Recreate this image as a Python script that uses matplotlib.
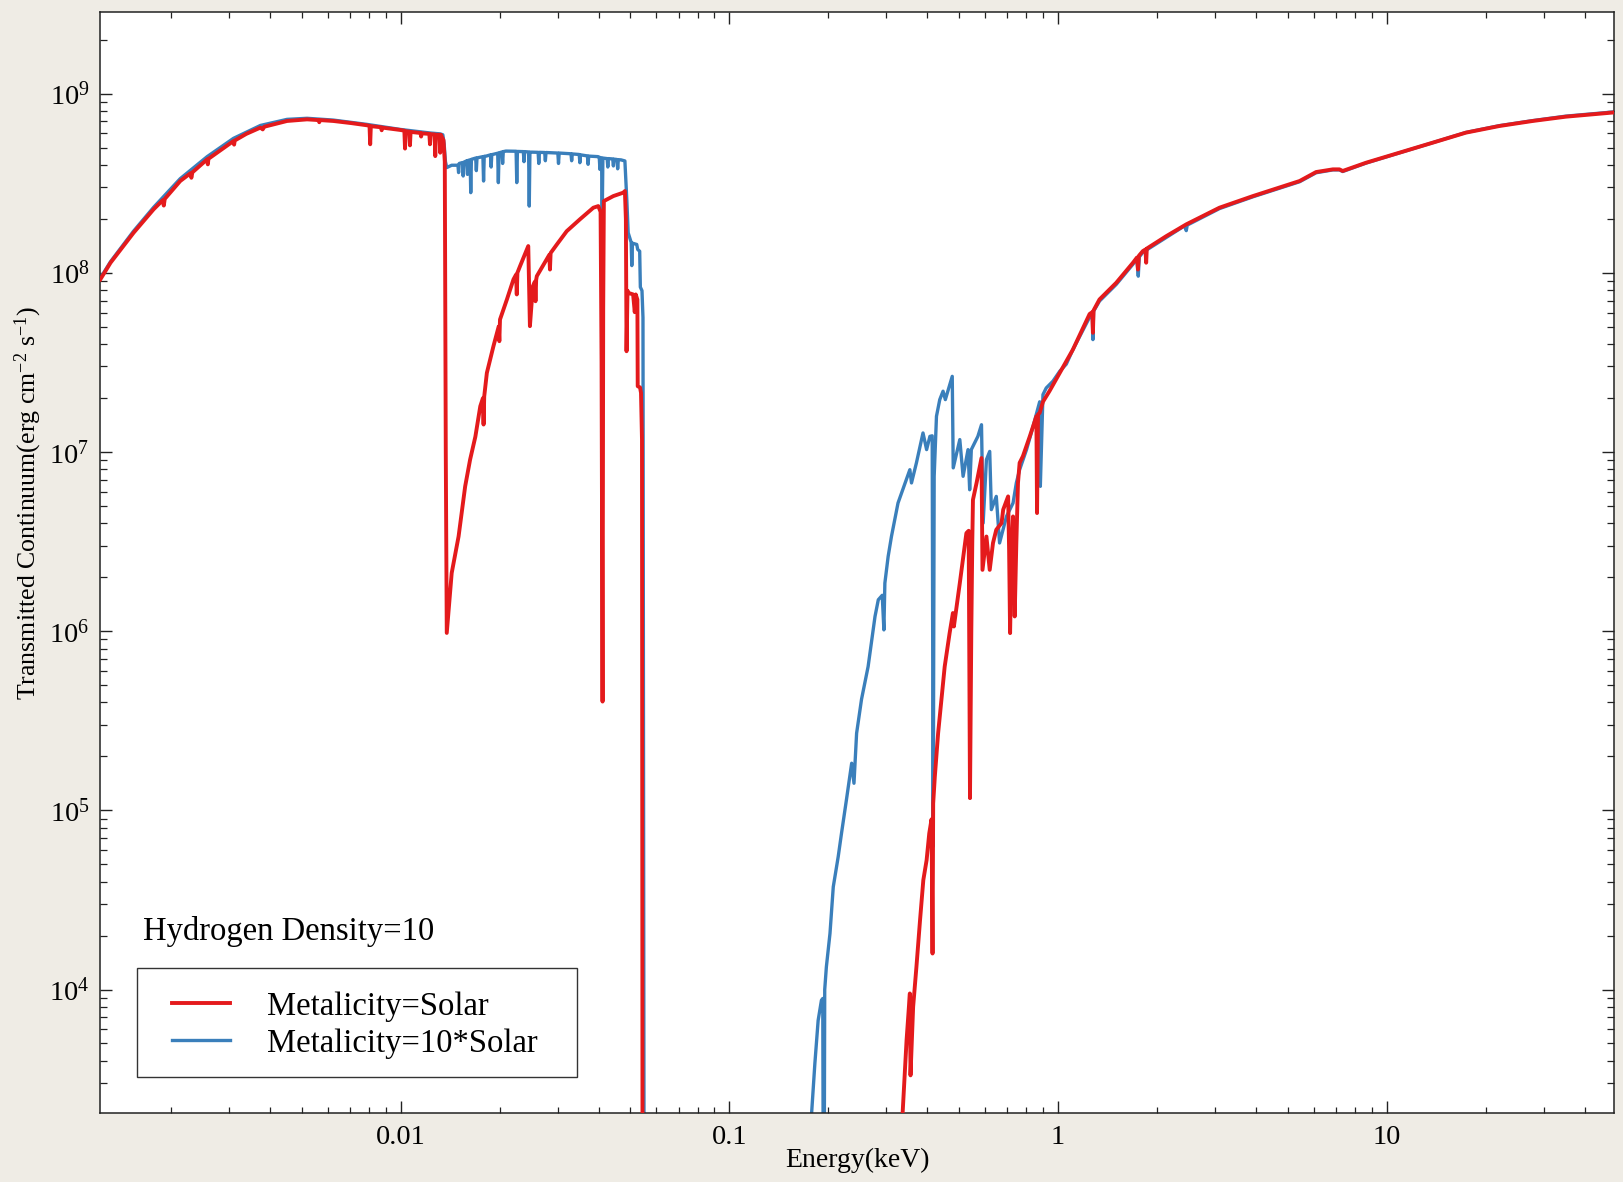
import numpy as np
import matplotlib
matplotlib.use("Agg")
import matplotlib.pyplot as plt
from matplotlib.patches import Rectangle
from matplotlib.ticker import FixedLocator, FixedFormatter, LogLocator, NullFormatter

plt.rcParams['font.family'] = ['Liberation Serif', 'DejaVu Serif']
plt.rcParams['mathtext.fontset'] = 'custom'
plt.rcParams['mathtext.rm'] = 'Liberation Serif'
plt.rcParams['mathtext.it'] = 'Liberation Serif:italic'
plt.rcParams['mathtext.bf'] = 'Liberation Serif:bold'

# ---------------- data (log10 energy [keV], log10 flux) ----------------
solar_soft_log_e = [-2.914, -2.883, -2.813, -2.752, -2.724, -2.721, -2.718, -2.671, -2.640, -2.637,
                    -2.634, -2.589, -2.587, -2.585, -2.509, -2.507, -2.505, -2.470, -2.427, -2.420,
                    -2.415, -2.346, -2.285, -2.250, -2.248, -2.246, -2.205, -2.150, -2.103, -2.095,
                    -2.093, -2.091, -2.060, -2.058, -2.056, -2.002, -1.989, -1.987, -1.985, -1.974,
                    -1.972, -1.970, -1.940, -1.938, -1.936, -1.913, -1.911, -1.909, -1.897, -1.895,
                    -1.893, -1.882, -1.880, -1.878, -1.870, -1.866, -1.863, -1.860,
                    -1.845, -1.824, -1.804, -1.789, -1.773, -1.758, -1.750, -1.748, -1.746, -1.738,
                    -1.718, -1.702, -1.700, -1.698, -1.677, -1.657, -1.649, -1.647, -1.645, -1.637,
                    -1.625, -1.612, -1.607, -1.598, -1.592, -1.590, -1.588, -1.586, -1.556, -1.548,
                    -1.546, -1.544, -1.525, -1.495, -1.455, -1.414, -1.399, -1.392, -1.389, -1.386,
                    -1.384, -1.382, -1.353, -1.323, -1.318, -1.315, -1.313, -1.310, -1.308, -1.293,
                    -1.288, -1.285, -1.280, -1.279, -1.272, -1.269, -1.266, -1.264]
solar_soft_log_f = [7.963, 8.056, 8.223, 8.354, 8.405, 8.375, 8.412, 8.512, 8.555, 8.530,
                    8.560, 8.633, 8.605, 8.636, 8.735, 8.715, 8.738, 8.775, 8.810, 8.800,
                    8.815, 8.847, 8.856, 8.852, 8.840, 8.852, 8.847, 8.835, 8.823, 8.820,
                    8.717, 8.818, 8.812, 8.795, 8.810, 8.797, 8.793, 8.693, 8.790, 8.788,
                    8.711, 8.786, 8.780, 8.760, 8.778, 8.775, 8.717, 8.773, 8.772, 8.651,
                    8.770, 8.770, 8.670, 8.770, 8.740, 8.620, 7.000, 5.990,
                    6.324, 6.529, 6.808, 6.957, 7.085, 7.255, 7.300, 7.153, 7.310, 7.441,
                    7.590, 7.700, 7.618, 7.739, 7.851, 7.963, 7.990, 7.879, 8.000, 8.037,
                    8.090, 8.149, 7.702, 7.925, 7.950, 7.841, 7.960, 7.981, 8.074, 8.100,
                    8.018, 8.110, 8.158, 8.232, 8.298, 8.363, 8.372, 8.340, 7.500, 5.607,
                    7.800, 8.400, 8.428, 8.447, 8.456, 8.300, 7.562, 7.900, 7.888, 7.879,
                    7.780, 7.879, 7.850, 7.367, 7.360, 7.330, 7.069, 2.000]

solar_hard_log_e = [-0.476, -0.473, -0.461, -0.451, -0.449, -0.441, -0.431, -0.420, -0.410, -0.400,
                    -0.392, -0.385, -0.382, -0.380, -0.375, -0.365, -0.355, -0.345, -0.330, -0.320,
                    -0.317, -0.299, -0.279, -0.272, -0.268, -0.264, -0.261, -0.259, -0.248, -0.240,
                    -0.233, -0.230, -0.218, -0.208, -0.198, -0.188, -0.172, -0.167, -0.152, -0.149,
                    -0.146, -0.142, -0.137, -0.132, -0.127, -0.122, -0.117, -0.107, -0.086, -0.066,
                    -0.064, -0.061, -0.056, -0.046, -0.026, 0.005, 0.045, 0.096, 0.104, 0.106,
                    0.108, 0.126, 0.177, 0.228, 0.240, 0.243, 0.246, 0.258, 0.266, 0.268,
                    0.270, 0.329, 0.390, 0.491, 0.593, 0.735, 0.785, 0.836, 0.856, 0.866,
                    0.937, 1.039, 1.140, 1.241, 1.343, 1.444, 1.545, 1.687]
solar_hard_log_f = [3.200, 3.310, 3.717, 3.978, 3.521, 3.903, 4.126, 4.387, 4.611, 4.722,
                    4.871, 4.950, 4.201, 5.039, 5.188, 5.430, 5.616, 5.802, 5.989, 6.101,
                    6.026, 6.268, 6.547, 6.560, 5.068, 6.000, 6.500, 6.733, 6.827, 6.901,
                    6.966, 6.342, 6.528, 6.342, 6.492, 6.566, 6.603, 6.678, 6.752, 6.454,
                    5.989, 6.400, 6.640, 6.082, 6.492, 6.827, 6.939, 6.976, 7.087, 7.199,
                    6.659, 7.210, 7.218, 7.280, 7.340, 7.441, 7.571, 7.770, 7.780, 7.665,
                    7.790, 7.851, 7.944, 8.056, 8.085, 8.018, 8.095, 8.121, 8.130, 8.056,
                    8.135, 8.204, 8.270, 8.363, 8.428, 8.512, 8.562, 8.577, 8.577, 8.568,
                    8.614, 8.670, 8.726, 8.782, 8.819, 8.847, 8.871, 8.894]

ten_solar_soft_log_e = [-2.914, -2.883, -2.813, -2.752, -2.671, -2.589, -2.509, -2.427, -2.346, -2.285,
                        -2.205, -2.103, -2.002, -1.911, -1.880, -1.872, -1.868, -1.864, -1.860, -1.845,
                        -1.826, -1.824, -1.822, -1.812, -1.810, -1.808, -1.800, -1.799, -1.797, -1.795,
                        -1.789, -1.787, -1.785, -1.772, -1.770, -1.768, -1.750, -1.748, -1.746, -1.740,
                        -1.727, -1.725, -1.723, -1.705, -1.703, -1.701, -1.692, -1.690, -1.688, -1.680,
                        -1.649, -1.647, -1.645, -1.627, -1.625, -1.623, -1.611, -1.609, -1.607, -1.600,
                        -1.582, -1.580, -1.578, -1.562, -1.560, -1.558, -1.522, -1.520, -1.518, -1.500,
                        -1.482, -1.480, -1.478, -1.457, -1.455, -1.453, -1.432, -1.430, -1.428, -1.400,
                        -1.396, -1.394, -1.392, -1.389, -1.387, -1.385, -1.372, -1.370, -1.368, -1.355,
                        -1.353, -1.351, -1.342, -1.340, -1.338, -1.330, -1.318, -1.312, -1.308, -1.299,
                        -1.297, -1.295, -1.282, -1.279, -1.273, -1.271, -1.266, -1.263, -1.259]
ten_solar_soft_log_f = [7.970, 8.062, 8.232, 8.365, 8.525, 8.648, 8.750, 8.822, 8.856, 8.862,
                        8.852, 8.828, 8.800, 8.780, 8.775, 8.770, 8.720, 8.620, 8.587, 8.600,
                        8.600, 8.559, 8.610, 8.615, 8.540, 8.617, 8.624, 8.625, 8.549, 8.627,
                        8.630, 8.447, 8.633, 8.640, 8.570, 8.641, 8.648, 8.512, 8.650, 8.651,
                        8.658, 8.590, 8.659, 8.667, 8.503, 8.669, 8.674, 8.610, 8.676, 8.679,
                        8.678, 8.503, 8.677, 8.676, 8.620, 8.676, 8.674, 8.372, 8.673, 8.673,
                        8.672, 8.610, 8.672, 8.671, 8.625, 8.671, 8.668, 8.610, 8.668, 8.666,
                        8.664, 8.625, 8.663, 8.660, 8.614, 8.658, 8.652, 8.605, 8.651, 8.648,
                        8.645, 8.577, 8.643, 8.640, 8.307, 8.640, 8.637, 8.590, 8.637, 8.635,
                        8.596, 8.634, 8.632, 8.580, 8.631, 8.630, 8.624, 8.400, 8.223, 8.170,
                        8.040, 8.165, 8.158, 8.130, 8.120, 7.920, 7.900, 7.750, 2.000]

ten_solar_hard_log_e = [-0.752, -0.750, -0.740, -0.730, -0.720, -0.716, -0.713, -0.710, -0.705, -0.694,
                        -0.684, -0.669, -0.659, -0.644, -0.628, -0.621, -0.613, -0.598, -0.578, -0.557,
                        -0.547, -0.535, -0.530, -0.527, -0.517, -0.507, -0.487, -0.451, -0.446, -0.431,
                        -0.411, -0.400, -0.390, -0.383, -0.380, -0.377, -0.370, -0.360, -0.350, -0.343,
                        -0.322, -0.319, -0.299, -0.289, -0.274, -0.269, -0.264, -0.254, -0.244, -0.233,
                        -0.228, -0.218, -0.208, -0.203, -0.188, -0.178, -0.157, -0.137, -0.127, -0.117,
                        -0.096, -0.076, -0.056, -0.054, -0.046, -0.036, -0.016, 0.005, 0.025, 0.045,
                        0.096, 0.104, 0.106, 0.108, 0.126, 0.177, 0.228, 0.240, 0.244, 0.247,
                        0.258, 0.329, 0.385, 0.390, 0.393, 0.491, 0.593, 0.735, 0.785, 0.836,
                        0.856, 0.866, 0.937, 1.039, 1.140, 1.241, 1.343, 1.444, 1.545, 1.687]
ten_solar_hard_log_f = [3.200, 3.307, 3.587, 3.828, 3.940, 3.950, 2.000, 4.000, 4.126, 4.313,
                        4.573, 4.741, 4.871, 5.058, 5.263, 5.151, 5.430, 5.620, 5.802, 6.082,
                        6.175, 6.200, 6.007, 6.268, 6.417, 6.528, 6.715, 6.901, 6.827, 6.939,
                        7.106, 7.013, 7.087, 7.090, 4.800, 6.864, 7.199, 7.292, 7.339, 7.292,
                        7.422, 6.911, 7.069, 6.864, 7.013, 6.789, 7.013, 7.050, 7.087, 7.152,
                        6.603, 6.957, 7.003, 6.678, 6.752, 6.492, 6.640, 6.715, 6.827, 6.901,
                        7.013, 7.143, 7.280, 6.808, 7.320, 7.357, 7.394, 7.450, 7.490, 7.571,
                        7.752, 7.770, 7.627, 7.785, 7.842, 7.935, 8.048, 8.078, 7.981, 8.088,
                        8.114, 8.197, 8.262, 8.235, 8.266, 8.358, 8.424, 8.508, 8.558, 8.574,
                        8.574, 8.565, 8.612, 8.669, 8.726, 8.783, 8.821, 8.849, 8.874, 8.897]

series_labels = ['Metalicity=Solar', 'Metalicity=10*Solar']
x_tick_values = [0.01, 0.1, 1, 10]
x_tick_labels = ['0.01', '0.1', '1', '10']
y_tick_values = [1e4, 1e5, 1e6, 1e7, 1e8, 1e9]
y_tick_labels = [r'$\mathdefault{10^{4}}$', r'$\mathdefault{10^{5}}$', r'$\mathdefault{10^{6}}$',
                 r'$\mathdefault{10^{7}}$', r'$\mathdefault{10^{8}}$', r'$\mathdefault{10^{9}}$']
annotation = 'Hydrogen Density=10'


def build(soft_e, soft_f, hard_e, hard_f):
    le = np.concatenate([soft_e, [np.nan], hard_e])
    lf = np.concatenate([soft_f, [np.nan], hard_f])
    return 10.0 ** le, 10.0 ** lf


sol_e, sol_f = build(solar_soft_log_e, solar_soft_log_f, solar_hard_log_e, solar_hard_log_f)
ten_e, ten_f = build(ten_solar_soft_log_e, ten_solar_soft_log_f,
                     ten_solar_hard_log_e, ten_solar_hard_log_f)

red = '#e41a1c'
blue = '#3a7fbb'

fig = plt.figure(figsize=(16.23, 11.82), dpi=100, facecolor='#efece5')
ax = fig.add_axes([0.0619, 0.0585, 0.9323, 0.9313])
ax.set_facecolor('white')
ax.set_xscale('log')
ax.set_yscale('log')

l_blue, = ax.plot(ten_e, ten_f, color=blue, lw=2.4, zorder=2, label=series_labels[1])
l_red, = ax.plot(sol_e, sol_f, color=red, lw=2.8, zorder=3, label=series_labels[0])

ax.set_xlim(1.22e-3, 49)
ax.set_ylim(2.05e3, 2.85e9)

ax.xaxis.set_major_locator(FixedLocator(x_tick_values))
ax.xaxis.set_major_formatter(FixedFormatter(x_tick_labels))
ax.xaxis.set_minor_locator(LogLocator(base=10, subs=np.arange(2, 10), numticks=50))
ax.xaxis.set_minor_formatter(NullFormatter())
ax.yaxis.set_major_locator(FixedLocator(y_tick_values))
ax.yaxis.set_major_formatter(FixedFormatter(y_tick_labels))
ax.yaxis.set_minor_locator(LogLocator(base=10, subs=np.arange(2, 10), numticks=50))
ax.yaxis.set_minor_formatter(NullFormatter())

ax.tick_params(which='both', direction='in', top=True, right=True, colors='#222222')
ax.tick_params(axis='both', which='major', length=8.5, width=1.0, labelsize=20.5, labelcolor='black')
ax.tick_params(axis='x', which='minor', length=4.0, width=0.9)
ax.tick_params(axis='y', which='minor', length=4.8, width=0.9)
ax.tick_params(axis='x', which='major', pad=9)
ax.tick_params(axis='y', which='major', pad=8)
for s in ax.spines.values():
    s.set_linewidth(1.1)
    s.set_color('#222222')

ax.set_xlabel('Energy(keV)', fontsize=20)
ax.xaxis.set_label_coords(0.5, -0.0429)
ax.xaxis.label.set_va('center')
ax.set_ylabel(r'Transmitted Continuum(erg cm$^{\mathregular{-2}}$ s$^{\mathregular{-1}}$)', fontsize=18.6)
ax.yaxis.set_label_coords(-0.0478, 0.554)
ax.yaxis.label.set_va('center')

ax.text(0.028, 0.1646, annotation, transform=ax.transAxes, fontsize=23.5,
        ha='left', va='center')
ax.add_patch(Rectangle((0.0239, 0.033), 0.2908, 0.0987, transform=ax.transAxes,
                       fill=False, edgecolor='#333333', lw=1.0, zorder=5))
ax.legend(handles=[l_red, l_blue], loc='center left', bbox_to_anchor=(0.0472, 0.080),
          frameon=False, fontsize=23.5, handlelength=1.78, handletextpad=1.14,
          labelspacing=0.2, borderpad=0.0, borderaxespad=0.0)

fig.savefig('out.png', dpi=100, facecolor=fig.get_facecolor())
